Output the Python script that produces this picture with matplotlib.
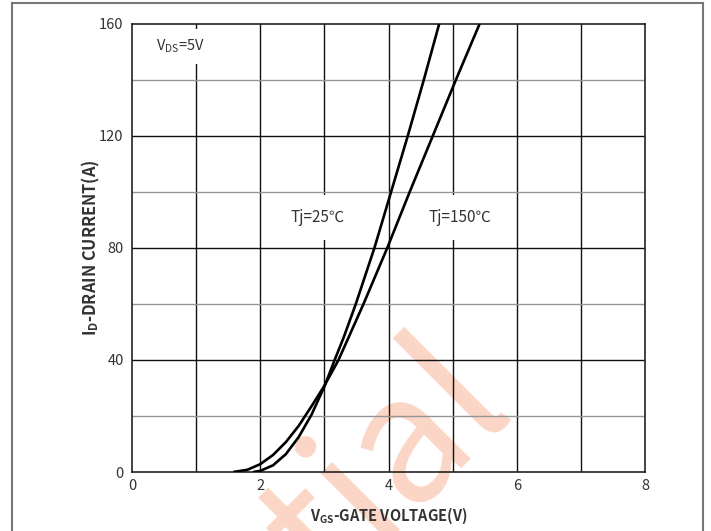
import matplotlib
matplotlib.use("Agg")
import matplotlib.pyplot as plt
from matplotlib.lines import Line2D

plt.rcParams['font.family'] = ['Noto Sans CJK SC', 'DejaVu Sans']
plt.rcParams['mathtext.fontset'] = 'custom'
plt.rcParams['mathtext.rm'] = 'Noto Sans CJK SC'
plt.rcParams['mathtext.bf'] = 'Noto Sans CJK SC:bold'

# ---- data ----
vgs_25 = [1.89, 2.0, 2.2, 2.4, 2.6, 2.8, 3.0, 3.16, 3.3, 3.49, 3.78, 4.04, 4.30, 4.55, 4.79]
id_25 = [0, 0.4, 2.4, 6.4, 12.5, 20.5, 30.5, 40, 48, 60, 80, 100, 120, 140, 160]

vgs_150 = [1.58, 1.8, 2.0, 2.2, 2.4, 2.6, 2.8, 3.0, 3.22, 3.61, 3.98, 4.33, 4.69, 5.05, 5.42]
id_150 = [0, 0.8, 2.8, 6.1, 10.7, 16.5, 23.5, 30.8, 40, 60, 80, 100, 120, 140, 160]

x_ticks = [0, 2, 4, 6, 8]
y_ticks = [0, 40, 80, 120, 160]
x_grid = [1, 2, 3, 4, 5, 6, 7]
y_grid_major = [40, 80, 120]
y_grid_minor = [20, 60, 100, 140]

W, H = 711, 531
fig = plt.figure(figsize=(W / 100, H / 100), dpi=100)
ax = fig.add_axes([132 / W, 1 - 472 / H, 513 / W, 448 / H])
ax.set_facecolor('none')

# watermark
fig.text(514 / W, 1 - 406 / H, 'Confidential', rotation=45, ha='right', va='baseline',
         rotation_mode='anchor', fontsize=126, color='#fbd6c6', zorder=-1)

ax.set_xlim(0, 8)
ax.set_ylim(0, 160)

for xv in x_grid:
    ax.axvline(xv, color='#111111', lw=1.0, zorder=1)
for yv in y_grid_major:
    ax.axhline(yv, color='#111111', lw=1.0, zorder=1)
for yv in y_grid_minor:
    ax.axhline(yv, color='#959595', lw=1.0, zorder=1)

ax.plot(vgs_25, id_25, color='black', lw=1.9, zorder=3, solid_capstyle='butt')
ax.plot(vgs_150, id_150, color='black', lw=1.9, zorder=3, solid_capstyle='butt')

ax.set_xticks(x_ticks)
ax.set_yticks(y_ticks)
ax.tick_params(length=0, labelsize=10.5, labelcolor='#333333')
ax.tick_params(axis='x', pad=5)
ax.tick_params(axis='y', pad=6)
for s in ax.spines.values():
    s.set_color('#222222')
    s.set_linewidth(1.2)

ax.set_xlabel(r'$\mathbf{V}_{\mathbf{GS}}$-GATE VOLTAGE(V)', fontsize=10.5, fontweight='bold',
              color='#333333', labelpad=9)
ax.set_ylabel(r'$\mathbf{I}_{\mathbf{D}}$-DRAIN CURRENT(A)', fontsize=11.8, fontweight='bold',
              color='#333333', labelpad=-2)

ax.text(0.37, 152, r'V$_{\mathrm{DS}}$=5V', fontsize=10.5, color='#333333',
        ha='left', va='center', bbox=dict(facecolor='white', edgecolor='none', pad=6), zorder=4)
ax.text(2.89, 91, 'Tj=25℃', fontsize=11, color='#333333',
        ha='center', va='center', bbox=dict(facecolor='white', edgecolor='none', pad=10), zorder=4)
ax.text(5.12, 91, 'Tj=150℃', fontsize=11, color='#333333',
        ha='center', va='center', bbox=dict(facecolor='white', edgecolor='none', pad=10), zorder=4)

# outer frame
fc = '#777777'
fig.add_artist(Line2D([12 / W, 12 / W], [-0.01, 1 - 2.5 / H], transform=fig.transFigure, color=fc, lw=1.5))
fig.add_artist(Line2D([703 / W, 703 / W], [-0.01, 1 - 2.5 / H], transform=fig.transFigure, color=fc, lw=1.5))
fig.add_artist(Line2D([12 / W, 703 / W], [1 - 2.5 / H, 1 - 2.5 / H], transform=fig.transFigure, color=fc, lw=1.5))

fig.savefig('out.png', dpi=100)
